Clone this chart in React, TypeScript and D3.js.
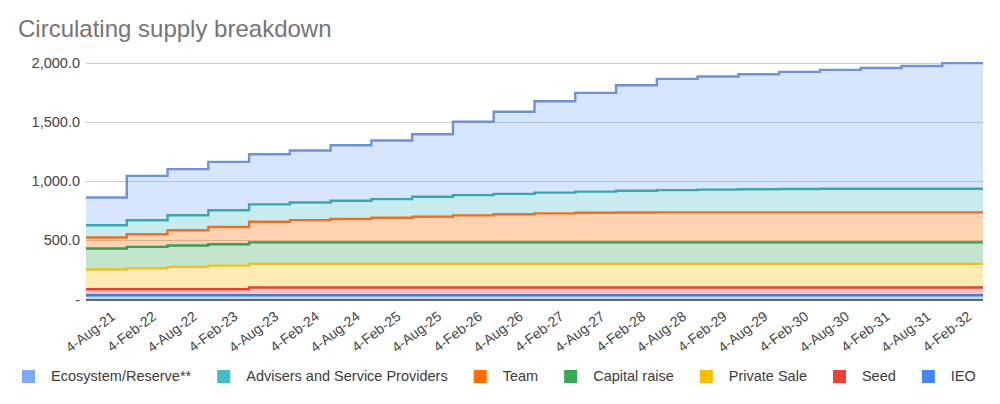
import React, { useRef, useEffect } from 'react';
import * as d3 from 'd3';

// Half-year release dates (x categories)
const categories = [
    '4-Aug-21', '4-Feb-22', '4-Aug-22', '4-Feb-23', '4-Aug-23', '4-Feb-24', '4-Aug-24', '4-Feb-25',
    '4-Aug-25', '4-Feb-26', '4-Aug-26', '4-Feb-27', '4-Aug-27', '4-Feb-28', '4-Aug-28', '4-Feb-29',
    '4-Aug-29', '4-Feb-30', '4-Aug-30', '4-Feb-31', '4-Aug-31', '4-Feb-32',
];

// Series values (stacked bottom to top)
const ieo = [36, 36, 36, 36, 36, 36, 36, 36, 36, 36, 36, 36, 36, 36, 36, 36, 36, 36, 36, 36, 36, 36];
const seed = [51, 51, 51, 51, 65, 65, 65, 65, 65, 65, 65, 65, 65, 65, 65, 65, 65, 65, 65, 65, 65, 65];
const privateSale = [166, 177, 188, 199, 200, 200, 200, 200, 200, 200, 200, 200, 200, 200, 200, 200, 200, 200, 200, 200, 200, 200];
const capitalRaise = [177, 180, 181, 180, 181, 181, 181, 181, 181, 181, 181, 181, 181, 181, 181, 181, 181, 181, 181, 181, 181, 181];
const team = [93, 107, 129, 146, 174, 188, 197, 208, 216, 228, 237, 245, 250, 252, 253, 253, 253, 253, 253, 253, 253, 253];
const advisers = [104, 118, 126, 141, 147, 149, 154, 157, 169, 171, 172, 175, 178, 184, 188, 192, 195, 197, 199, 199, 199, 199];
const ecosystem = [234, 374, 389, 408, 423, 438, 469, 495, 528, 619, 694, 771, 834, 890, 939, 955, 971, 989, 1004, 1020, 1037, 1061];

const seriesNames = ['IEO', 'Seed', 'Private Sale', 'Capital raise', 'Team', 'Advisers and Service Providers', 'Ecosystem/Reserve**'];
const seriesValues = [ieo, seed, privateSale, capitalRaise, team, advisers, ecosystem];
const seriesColors = ['#4285F4', '#EA4335', '#FBBC04', '#34A853', '#FF6D01', '#46BDC6', '#7BAAF7'];
const lineColors = ['#3f7be0', '#dc4538', '#ecc22a', '#3b9a56', '#ec6f22', '#3aa7b0', '#6f92d4'];

const yTicks = [0, 500, 1000, 1500, 2000];

const FONT = '"Liberation Sans", Arial, sans-serif';

const App: React.FC = () => {
    const svgRef = useRef<SVGSVGElement | null>(null);

    useEffect(() => {
        if (!svgRef.current) return;
        const width = 1000;
        const height = 404;
        const margin = { top: 62.5, right: 17, bottom: 104.5, left: 86 };

        const svg = d3.select(svgRef.current)
            .attr('width', width)
            .attr('height', height);
        svg.selectAll('*').remove();

        svg.append('rect').attr('width', width).attr('height', height).attr('fill', 'white');

        const x = d3.scaleBand<string>()
            .domain(categories)
            .range([margin.left, width - margin.right])
            .padding(0);

        const y = d3.scaleLinear()
            .domain([0, 2000])
            .range([height - margin.bottom, margin.top]);

        // Title
        svg.append('text')
            .attr('x', 18)
            .attr('y', 37)
            .attr('fill', '#757575')
            .style('font-family', FONT)
            .style('font-size', '24px')
            .text('Circulating supply breakdown');

        // Gridlines
        svg.append('g')
            .selectAll('line')
            .data(yTicks.filter(t => t > 0))
            .enter().append('line')
            .attr('x1', margin.left)
            .attr('x2', width - margin.right)
            .attr('y1', d => Math.round(y(d)) + 0.5)
            .attr('y2', d => Math.round(y(d)) + 0.5)
            .attr('stroke', '#cccccc')
            .attr('stroke-width', 1);

        // Stack the series
        const rows = categories.map((c, i) => {
            const row: Record<string, number> = {};
            seriesNames.forEach((name, s) => { row[name] = seriesValues[s][i]; });
            return row;
        });
        const layers = d3.stack<Record<string, number>>().keys(seriesNames)(rows);

        const xEnd = x.range()[1];
        const layerPoints = layers.map(layer => {
            const pts: [number, number, number][] = layer.map((d, i) => [x(categories[i]) as number, d[0], d[1]]);
            const last = layer[layer.length - 1];
            pts.push([xEnd, last[0], last[1]]);
            return pts;
        });

        const area = d3.area<[number, number, number]>()
            .x(p => p[0])
            .y0(p => y(p[1]))
            .y1(p => y(p[2]))
            .curve(d3.curveStepAfter);

        const line = d3.line<[number, number, number]>()
            .x(p => p[0])
            .y(p => y(p[2]))
            .curve(d3.curveStepAfter);

        svg.append('g')
            .selectAll('path')
            .data(layerPoints)
            .enter().append('path')
            .attr('d', d => area(d))
            .attr('fill', (_, i) => seriesColors[i])
            .attr('fill-opacity', 0.3);

        // Baseline
        svg.append('line')
            .attr('x1', margin.left)
            .attr('x2', width - margin.right)
            .attr('y1', y(0) + 0.5)
            .attr('y2', y(0) + 0.5)
            .attr('stroke', '#333333')
            .attr('stroke-width', 1.5);

        svg.append('g')
            .selectAll('path')
            .data(layerPoints)
            .enter().append('path')
            .attr('d', d => line(d))
            .attr('fill', 'none')
            .attr('stroke', (_, i) => lineColors[i])
            .attr('stroke-width', 2.4);

        // Y axis labels
        const fmt = d3.format(',.1f');
        svg.append('g')
            .selectAll('text')
            .data(yTicks)
            .enter().append('text')
            .attr('x', 80)
            .attr('y', d => y(d))
            .attr('dy', '0.35em')
            .attr('text-anchor', 'end')
            .attr('fill', '#444444')
            .style('font-family', FONT)
            .style('font-size', '14.5px')
            .text(d => (d === 0 ? '-' : fmt(d)));

        // X axis labels (slanted)
        svg.append('g')
            .selectAll('text')
            .data(categories)
            .enter().append('text')
            .attr('transform', d => `translate(${(x(d) as number) + x.bandwidth() / 2 + 7},${y(0) + 15}) rotate(-37)`)
            .attr('dy', '0.35em')
            .attr('text-anchor', 'end')
            .attr('fill', '#444444')
            .style('font-family', FONT)
            .style('font-size', '14px')
            .text(d => d);

        // Legend
        const legendOrder = seriesNames.map((_, i) => seriesNames.length - 1 - i);
        let lx = 22;
        const legend = svg.append('g');
        legendOrder.forEach(i => {
            legend.append('rect')
                .attr('x', lx)
                .attr('y', 370)
                .attr('width', 13)
                .attr('height', 13)
                .attr('fill', seriesColors[i]);
            const t = legend.append('text')
                .attr('x', lx + 29)
                .attr('y', 381)
                .attr('fill', '#3c3c3c')
                .style('font-family', FONT)
                .style('font-size', '14.5px')
                .text(seriesNames[i]);
            const w = (t.node() as SVGTextElement).getComputedTextLength();
            lx = lx + 29 + w + 26;
        });
    }, []);

    return <svg ref={svgRef} style={{ position: 'absolute', left: 0, top: 0 }}></svg>;
};

export default App;
